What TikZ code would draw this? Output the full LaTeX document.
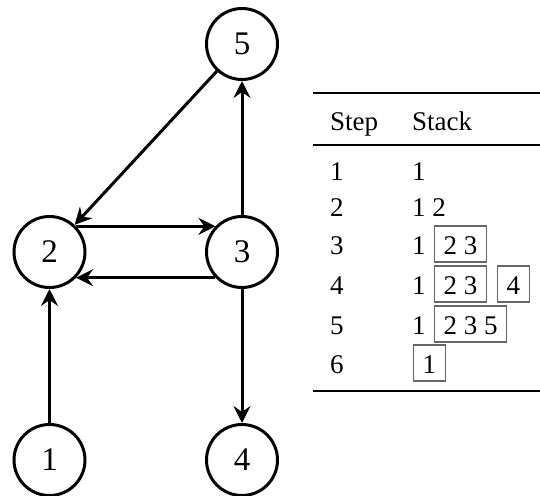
\documentclass[tikz,border=0pt]{standalone}
\usepackage{fontspec}
\setmainfont{Liberation Serif}
\usetikzlibrary{arrows.meta}
\definecolor{boxgray}{gray}{0.4}
\begin{document}
\begin{tikzpicture}[x=1pt,y=-1pt,
  vert/.style={circle,draw,line width=3pt,minimum size=71pt,inner sep=0pt,font=\fontsize{33}{40}\selectfont},
  edge/.style={line width=3pt,-{Stealth[length=17pt,width=17pt,inset=6pt]}},
  cell/.style={anchor=base west,inner sep=0pt,font=\fontsize{27}{32}\selectfont},
  sbox/.style={cell,draw=boxgray,line width=1.2pt,inner xsep=9pt,inner ysep=0pt,text height=28pt,text depth=8pt},
  thickrule/.style={line width=2.5pt},
  thinrule/.style={line width=1.5pt}]
\useasboundingbox (0,0) rectangle (540,495);
% graph
\node[vert] (n5) at (242,44) {5};
\node[vert] (n2) at (49.5,252) {2};
\node[vert] (n3) at (242,252) {3};
\node[vert] (n1) at (49.5,460) {1};
\node[vert] (n4) at (242,460) {4};
\draw[edge] (n5) -- (n2);
\draw[edge] (n2.44) -- (n3.136);
\draw[edge] (n3.-136) -- (n2.-44);
\draw[edge] (n3) -- (n5);
\draw[edge] (n3) -- (n4);
\draw[edge] (n1) -- (n2);
% table rules
\coordinate (tl) at (313,93);  \coordinate (tr) at (540,93);
\coordinate (ml) at (313,145); \coordinate (mr) at (540,145);
\coordinate (bl) at (313,391); \coordinate (br) at (540,391);
\draw[thickrule] (tl) -- (tr);
\draw[thinrule] (ml) -- (mr);
\draw[thickrule] (bl) -- (br);
% header
\node[cell] (hstep) at (330,130) {Step};
\node[cell] (hstack) at (412,130) {Stack};
% rows
\node[cell] (s1) at (330,180) {1};
\node[cell] (k1) at (412,180) {1};
\node[cell] (s2) at (330,216) {2};
\node[cell] (k2) at (412,216) {1 2};
\node[cell] (s3) at (330,254) {3};
\node[cell] (k3) at (412,254) {1};
\node[sbox] (b3) at (434,254) {2 3};
\node[cell] (s4) at (330,294) {4};
\node[cell] (k4) at (412,294) {1};
\node[sbox] (b4a) at (434,294) {2 3};
\node[sbox] (b4b) at (497,294) {4};
\node[cell] (s5) at (330,334) {5};
\node[cell] (k5) at (412,334) {1};
\node[sbox] (b5) at (434,334) {2 3 5};
\node[cell] (s6) at (330,373) {6};
\node[sbox] (b6) at (413,373) {1};
\end{tikzpicture}
\end{document}
